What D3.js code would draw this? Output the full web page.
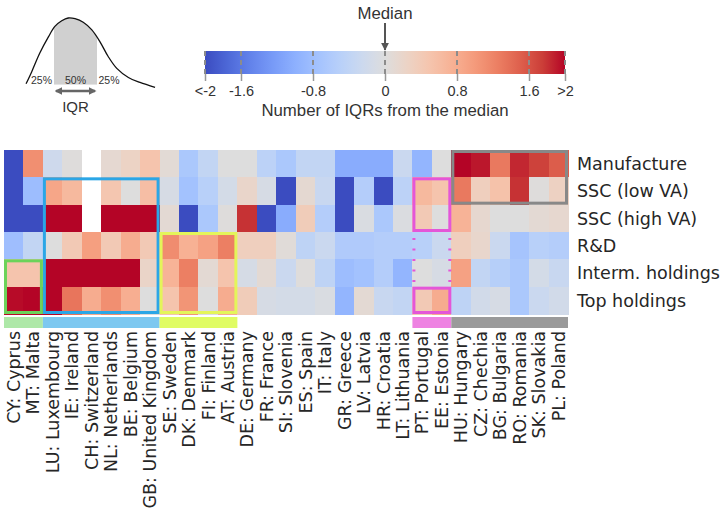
<!DOCTYPE html>
<html>
<head>
<meta charset="utf-8">
<script src="https://cdn.jsdelivr.net/npm/d3@7"></script>
<style>
body{margin:0;background:#fff}
svg{display:block}
</style>
</head>
<body>
<svg></svg>
<script>
var screen = {width:724,height:510}

// countries (columns) and activities (rows)
var countries = ["CY: Cyprus","MT: Malta","LU: Luxembourg","IE: Ireland","CH: Switzerland","NL: Netherlands",
  "BE: Belgium","GB: United Kingdom","SE: Sweden","DK: Denmark","FI: Finland","AT: Austria","DE: Germany",
  "FR: France","SI: Slovenia","ES: Spain","IT: Italy","GR: Greece","LV: Latvia","HR: Croatia","LT: Lithuania",
  "PT: Portugal","EE: Estonia","HU: Hungary","CZ: Chechia","BG: Bulgaria","RO: Romania","SK: Slovakia","PL: Poland"]
var activities = ["Manufacture","SSC (low VA)","SSC (high VA)","R&D","Interm. holdings","Top holdings"]

// number of IQRs from the median, one array per activity (null = no data)
var manufacture = [-2.5,1.1,-0.22,0.02,null,0.13,0.25,0.5,0.08,-0.65,-0.37,0,0,-0.45,-0.65,-0.37,-0.37,-1.05,-1.05,-1.05,-0.27,-0.93,0,2.5,1.92,1.3,1.85,1.72,1.52]
var sscLow = [-2.5,-0.82,0.87,0.65,null,0.47,0,0.58,-0.1,-0.75,-0.5,-0.15,0.2,-0.1,-2.5,0.12,-0.3,-2.5,-0.55,-2.5,-0.45,0.65,0.5,1.3,0.32,0.53,1.8,0.02,0.28]
var sscHigh = [-2.5,-2.5,2.5,2.5,null,2.5,2.5,2.5,0.1,-2.5,-0.65,0.02,1.8,-2.5,-1.05,0.37,-0.55,-2.5,-0.06,-0.65,-0.05,0.42,0,0.72,0.15,0,0,0.1,0.15]
var rnd = [-0.8,-0.37,0,0.42,0.95,0.42,0.8,0.42,1.13,0.75,0.92,1.25,0.32,0.32,0.05,-0.42,-0.27,-0.6,-0.6,-0.55,-0.55,-0.5,-0.27,0.32,0.18,-0.27,-0.72,-0.5,-0.55]
var intermHoldings = [0.5,0.5,2.5,2.5,2.5,2.5,2.5,0.22,0.72,1.25,0.1,0.5,-0.12,0.1,-0.27,0.02,-0.42,-0.82,-0.75,-0.55,-0.93,0,-0.1,0.92,-0.37,-0.52,-0.65,-0.15,-0.3]
var topHoldings = [1.97,2.5,2.5,1.33,0.8,1.1,0.78,0,0.5,1.05,0,0.8,0.37,-0.1,-0.15,-0.15,-0.06,-0.93,0.1,-0.3,-0.37,0.42,0.8,-0.42,-0.17,-0.1,-0.65,-0.27,-0.17]
var rows = [manufacture,sscLow,sscHigh,rnd,intermHoldings,topHoldings]

// colorbar ticks
var cbTicks = [-2,-1.6,-0.8,0,0.8,1.6,2]
var cbTickLabels = ["<-2","-1.6","-0.8","0","0.8","1.6",">2"]

// country clusters (strip under the heatmap)
var clusterFirst = ["CY: Cyprus","LU: Luxembourg","SE: Sweden","PT: Portugal","HU: Hungary"]
var clusterLast = ["MT: Malta","GB: United Kingdom","AT: Austria","EE: Estonia","PL: Poland"]
var clusterColors = ["#aee8a8","#7dc8f0","#e0fc64","#ee82e2","#9a9a9a"]

// highlighted boxes
var boxFirstCountry = ["LU: Luxembourg","CY: Cyprus","SE: Sweden","PT: Portugal","PT: Portugal","HU: Hungary"]
var boxLastCountry = ["GB: United Kingdom","MT: Malta","AT: Austria","EE: Estonia","EE: Estonia","PL: Poland"]
var boxFirstRow = ["SSC (low VA)","Interm. holdings","R&D","SSC (low VA)","Top holdings","Manufacture"]
var boxLastRow = ["Top holdings","Top holdings","Top holdings","SSC (high VA)","Top holdings","SSC (low VA)"]
var boxColors = ["#2ba6e6","#6cd35a","#e4f55a","#e456d8","#e456d8","#888888"]

// IQR sketch: a skewed density, x in IQR units (Q1 = 0, Q3 = 1)
var curveX = [-0.65,-0.52,-0.33,-0.13,0.02,0.18,0.33,0.49,0.68,0.88,1.07,1.26,1.46,1.73,2.0,2.35]
var curveY = [0.06,0.23,0.5,0.73,0.88,0.96,1.0,0.99,0.94,0.83,0.66,0.45,0.28,0.15,0.08,0.01]
var pctX = [-0.29,0.5,1.28]
var pctLabel = ["25%","50%","25%"]

// matplotlib coolwarm, sampled every 1/16
var coolwarm = ["#3b4cc0","#4d68d7","#6282ea","#779af7","#8db0fe","#a3c2fe","#b8d0f9","#ccd9ee","#dddddd",
  "#ecd3c5","#f5c4ad","#f7b194","#f49a7b","#ec7f63","#de604d","#cb3e38","#b40426"]

var svg = d3.select("svg")
  .attr("width",screen.width)
  .attr("height",screen.height)

var cScale = d3.scaleLinear()
  .domain(d3.range(coolwarm.length).map(function(i){return -2 + i*4/(coolwarm.length-1)}))
  .range(coolwarm)
  .interpolate(d3.interpolateRgb)
  .clamp(true)

var drawHeatmap = function()
{
  var xScale = d3.scaleBand().domain(countries).range([4,568])
  var yScale = d3.scaleBand().domain(activities).range([150,314])

  var cells = []
  rows.forEach(function(vals, r)
  {
    vals.forEach(function(v, c)
    {
      if (v !== null) cells.push({country:countries[c], activity:activities[r], value:v})
    })
  })

  svg.append("g")
    .attr("id","heat")
    .selectAll("rect")
    .data(cells)
    .enter()
    .append("rect")
    .attr("x",function(d){return xScale(d.country)})
    .attr("y",function(d){return yScale(d.activity)})
    .attr("width",xScale.bandwidth()+0.5)
    .attr("height",yScale.bandwidth()+0.5)
    .attr("fill",function(d){return cScale(d.value)})
    .attr("shape-rendering","crispEdges")

  // cluster strip
  svg.append("g")
    .selectAll("rect")
    .data(clusterFirst)
    .enter()
    .append("rect")
    .attr("x",function(d){return xScale(d)})
    .attr("y",317)
    .attr("width",function(d,i){return xScale(clusterLast[i]) + xScale.bandwidth() - xScale(d)})
    .attr("height",11)
    .attr("fill",function(d,i){return clusterColors[i]})

  // boxes
  var inset = 1.5
  svg.append("g")
    .selectAll("rect")
    .data(boxFirstCountry)
    .enter()
    .append("rect")
    .attr("x",function(d){return xScale(d)+inset})
    .attr("y",function(d,i){return yScale(boxFirstRow[i])+inset})
    .attr("width",function(d,i){return xScale(boxLastCountry[i]) + xScale.bandwidth() - xScale(d) - 2*inset})
    .attr("height",function(d,i){return yScale(boxLastRow[i]) + yScale.bandwidth() - yScale(boxFirstRow[i]) - 2*inset})
    .attr("fill","none")
    .attr("stroke",function(d,i){return boxColors[i]})
    .attr("stroke-width",3)

  // dotted sides joining the two Portugal/Estonia boxes
  var dTop = yScale("R&D"), dBot = yScale("Top holdings")
  var dx = [xScale("PT: Portugal")+inset, xScale("EE: Estonia")+xScale.bandwidth()-inset]
  svg.append("g")
    .selectAll("line")
    .data(dx)
    .enter()
    .append("line")
    .attr("x1",function(d){return d}).attr("x2",function(d){return d})
    .attr("y1",dTop+6).attr("y2",dBot)
    .attr("stroke","#e456d8")
    .attr("stroke-width",3)
    .attr("stroke-dasharray","2,8.5")

  // row labels
  svg.append("g")
    .selectAll("text")
    .data(activities)
    .enter()
    .append("text")
    .attr("x",577)
    .attr("y",function(d){return yScale(d)+yScale.bandwidth()/2})
    .attr("dy","0.36em")
    .style("font-family","'DejaVu Sans'")
    .style("font-size","17.5px")
    .attr("fill","#262626")
    .text(function(d){return d})

  // column labels
  svg.append("g")
    .selectAll("text")
    .data(countries)
    .enter()
    .append("text")
    .attr("transform",function(d){return "translate("+(xScale(d)+xScale.bandwidth()/2)+",331) rotate(-90)"})
    .attr("dy","0.36em")
    .attr("text-anchor","end")
    .style("font-family","'DejaVu Sans'")
    .style("font-size","17.5px")
    .attr("fill","#262626")
    .text(function(d){return d})
}

var drawColorbar = function()
{
  var cb = d3.scaleLinear().domain([-2,2]).range([205,565])
  var defs = svg.append("defs")
  var grad = defs.append("linearGradient").attr("id","cw")
  grad.selectAll("stop")
    .data(d3.range(0,1.0001,1/32))
    .enter()
    .append("stop")
    .attr("offset",function(t){return t})
    .attr("stop-color",function(t){return cScale(-2+4*t)})

  svg.append("rect")
    .attr("x",cb(-2)).attr("y",51)
    .attr("width",cb(2)-cb(-2)).attr("height",23)
    .attr("fill","url(#cw)")

  svg.append("g")
    .selectAll("line")
    .data(cbTicks)
    .enter()
    .append("line")
    .attr("x1",function(d){return cb(d)}).attr("x2",function(d){return cb(d)})
    .attr("y1",51).attr("y2",74)
    .attr("stroke","#8c8c8c")
    .attr("stroke-width",2)
    .attr("stroke-dasharray","5,4")

  var axis = d3.axisBottom(cb)
    .tickValues(cbTicks)
    .tickFormat(function(d,i){return cbTickLabels[i]})
    .tickSize(7)
    .tickPadding(5)
  var g = svg.append("g")
    .attr("transform","translate(0,74)")
    .call(axis)
  g.select(".domain").remove()
  g.selectAll(".tick line").attr("stroke","#999").attr("stroke-width",1.5)
  g.selectAll(".tick text")
    .style("font-family","'Liberation Sans', Arial")
    .style("font-size","14.5px")
    .attr("fill","#333")

  svg.append("text")
    .attr("x",cb(0)).attr("y",116)
    .attr("text-anchor","middle")
    .style("font-family","'Liberation Sans', Arial")
    .style("font-size","16.8px")
    .attr("fill","#333")
    .text("Number of IQRs from the median")

  svg.append("text")
    .attr("x",cb(0)).attr("y",19)
    .attr("text-anchor","middle")
    .style("font-family","'Liberation Sans', Arial")
    .style("font-size","16.8px")
    .attr("fill","#333")
    .text("Median")

  defs.append("marker")
    .attr("id","medArrow")
    .attr("viewBox","0 0 10 10")
    .attr("refX",9).attr("refY",5)
    .attr("markerWidth",4).attr("markerHeight",5)
    .attr("orient","auto")
    .append("path")
    .attr("d","M0,0L10,5L0,10z")
    .attr("fill","#555")

  svg.append("line")
    .attr("x1",cb(0)).attr("x2",cb(0))
    .attr("y1",23).attr("y2",50)
    .attr("stroke","#555")
    .attr("stroke-width",2)
    .attr("marker-end","url(#medArrow)")
}

var drawInset = function()
{
  var xs = d3.scaleLinear().domain([0,1]).range([54,97])
  var ys = d3.scaleLinear().domain([0,1]).range([88,18])
  var pts = curveX.map(function(x,i){return [x, curveY[i]]})

  var defs = svg.select("defs")
  defs.append("clipPath").attr("id","iqrClip")
    .append("rect")
    .attr("x",xs(0)).attr("y",0)
    .attr("width",xs(1)-xs(0)).attr("height",ys(0.045))

  var area = d3.area()
    .x(function(p){return xs(p[0])})
    .y0(ys(0.045))
    .y1(function(p){return ys(p[1])})
    .curve(d3.curveCatmullRom)
  svg.append("path")
    .datum(pts)
    .attr("d",area)
    .attr("fill","#d0d0d0")
    .attr("clip-path","url(#iqrClip)")

  var line = d3.line()
    .x(function(p){return xs(p[0])})
    .y(function(p){return ys(p[1])})
    .curve(d3.curveCatmullRom)
  svg.append("path")
    .datum(pts)
    .attr("d",line)
    .attr("fill","none")
    .attr("stroke","#111")
    .attr("stroke-width",1.3)

  svg.append("g")
    .selectAll("text")
    .data(pctX)
    .enter()
    .append("text")
    .attr("x",function(d){return xs(d)})
    .attr("y",83.5)
    .attr("text-anchor","middle")
    .style("font-family","'Liberation Sans', Arial")
    .style("font-size","10.5px")
    .attr("fill","#333")
    .text(function(d,i){return pctLabel[i]})

  defs.append("marker")
    .attr("id","iqrArrow")
    .attr("viewBox","0 0 10 10")
    .attr("refX",8).attr("refY",5)
    .attr("markerWidth",3).attr("markerHeight",3)
    .attr("orient","auto-start-reverse")
    .append("path")
    .attr("d","M0,0L10,5L0,10z")
    .attr("fill","#666")

  svg.append("line")
    .attr("x1",xs(0)+2).attr("x2",xs(1)-2)
    .attr("y1",91).attr("y2",91)
    .attr("stroke","#666")
    .attr("stroke-width",2.5)
    .attr("marker-start","url(#iqrArrow)")
    .attr("marker-end","url(#iqrArrow)")

  svg.append("text")
    .attr("x",xs(0.5)).attr("y",111.5)
    .attr("text-anchor","middle")
    .style("font-family","'Liberation Sans', Arial")
    .style("font-size","15px")
    .attr("fill","#333")
    .text("IQR")
}

drawHeatmap()
drawColorbar()
drawInset()
</script>
</body>
</html>
